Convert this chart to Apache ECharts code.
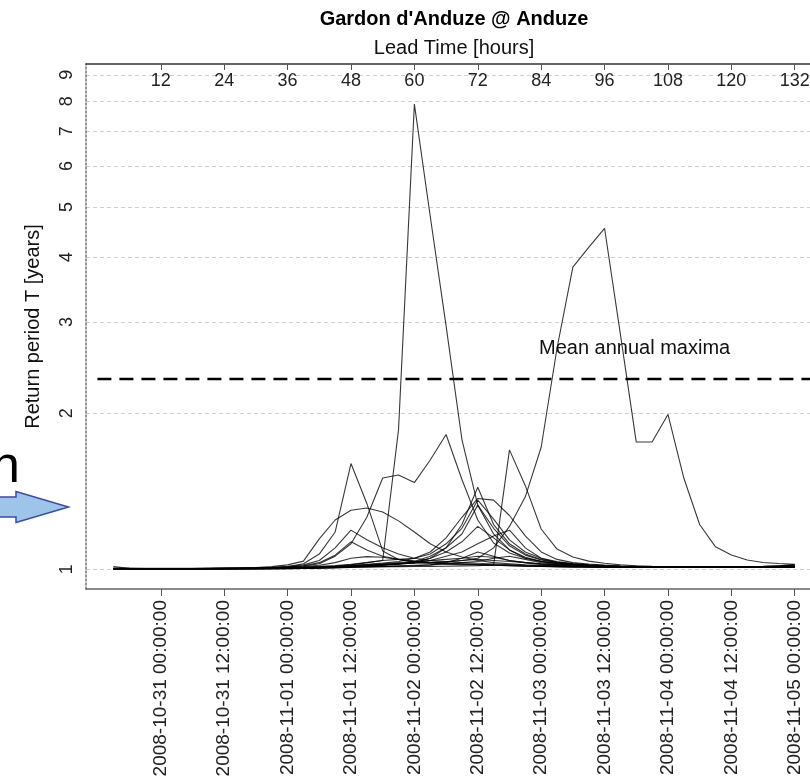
<!DOCTYPE html>
<html>
<head>
<meta charset="utf-8">
<script src="https://cdn.jsdelivr.net/npm/echarts@6/dist/echarts.min.js"></script>
<style>
  html, body { margin: 0; padding: 0; overflow: hidden; background: #fff; }
  #chart { width: 830px; height: 782px; }
</style>
</head>
<body>
<div id="chart"></div>
<script>
// lead time of each forecast step, hours after 2008-10-30 12:00
const leadHours = [3, 6, 9, 12, 15, 18, 21, 24, 27, 30, 33,
  36, 39, 42, 45, 48, 51, 54, 57, 60, 63, 66,
  69, 72, 75, 78, 81, 84, 87, 90, 93, 96, 99,
  102, 105, 108, 111, 114, 117, 120, 123, 126, 129, 132]

const hourTicks = [12, 24, 36, 48, 60, 72, 84, 96, 108, 120, 132]
const returnTicks = [1, 2, 3, 4, 5, 6, 7, 8, 9]
const meanAnnualMax = 2.33

// return period T [years] of each ensemble member
const memberA = [1.012, 1.004, 1.003, 1.003, 1.003, 1.003, 1.003, 1.004, 1.004, 1.005, 1.006,
  1.008, 1.01, 1.013, 1.017, 1.022, 1.03, 1.04, 1.86, 7.9, 4.8, 2.95,
  1.78, 1.33, 1.17, 1.09, 1.05, 1.035, 1.025, 1.02, 1.016, 1.014, 1.012,
  1.011, 1.01, 1.01, 1.01, 1.01, 1.01, 1.01, 1.01, 1.012, 1.014, 1.016]
const memberB = [1.004, 1.004, 1.003, 1.003, 1.003, 1.003, 1.003, 1.003, 1.004, 1.004, 1.005,
  1.006, 1.008, 1.01, 1.013, 1.016, 1.02, 1.022, 1.025, 1.027, 1.03, 1.033,
  1.04, 1.05, 1.1, 1.21, 1.38, 1.72, 2.67, 3.83, 4.18, 4.55, 2.84,
  1.76, 1.76, 1.99, 1.5, 1.22, 1.105, 1.066, 1.042, 1.031, 1.026, 1.022]
const memberC = [1.004, 1.004, 1.004, 1.004, 1.004, 1.004, 1.004, 1.004, 1.004, 1.005, 1.005,
  1.006, 1.007, 1.008, 1.009, 1.01, 1.011, 1.012, 1.012, 1.013, 1.013, 1.014,
  1.015, 1.016, 1.02, 1.7, 1.45, 1.196, 1.094, 1.056, 1.037, 1.027, 1.02,
  1.016, 1.013, 1.012, 1.011, 1.01, 1.01, 1.01, 1.01, 1.01, 1.011, 1.012]
const memberD = [1.003, 1.003, 1.003, 1.003, 1.003, 1.003, 1.004, 1.004, 1.005, 1.006, 1.008,
  1.012, 1.025, 1.07, 1.18, 1.6, 1.34, 1.085, 1.045, 1.032, 1.026, 1.022,
  1.02, 1.02, 1.018, 1.016, 1.014, 1.013, 1.012, 1.011, 1.01, 1.01, 1.01,
  1.01, 1.01, 1.01, 1.01, 1.01, 1.01, 1.01, 1.01, 1.01, 1.011, 1.012]
const memberE = [1.003, 1.003, 1.003, 1.003, 1.003, 1.003, 1.004, 1.005, 1.006, 1.008, 1.012,
  1.02, 1.037, 1.145, 1.245, 1.3, 1.313, 1.29, 1.24, 1.18, 1.12, 1.08,
  1.056, 1.04, 1.03, 1.025, 1.02, 1.018, 1.016, 1.014, 1.012, 1.011, 1.01,
  1.01, 1.01, 1.01, 1.01, 1.01, 1.01, 1.01, 1.01, 1.01, 1.012, 1.015]
const memberF = [1.003, 1.003, 1.003, 1.003, 1.003, 1.003, 1.003, 1.004, 1.005, 1.006, 1.008,
  1.01, 1.015, 1.025, 1.06, 1.12, 1.26, 1.5, 1.52, 1.47, 1.625, 1.82,
  1.49, 1.245, 1.124, 1.075, 1.05, 1.035, 1.028, 1.022, 1.018, 1.015, 1.013,
  1.012, 1.011, 1.01, 1.01, 1.01, 1.01, 1.01, 1.01, 1.012, 1.016, 1.02]
const memberG1 = [1.003, 1.003, 1.003, 1.003, 1.003, 1.003, 1.003, 1.003, 1.004, 1.004, 1.005,
  1.006, 1.007, 1.009, 1.011, 1.014, 1.017, 1.02, 1.025, 1.03, 1.05, 1.1,
  1.22, 1.44, 1.22, 1.12, 1.07, 1.045, 1.032, 1.025, 1.02, 1.017, 1.014,
  1.012, 1.011, 1.01, 1.01, 1.01, 1.01, 1.01, 1.01, 1.01, 1.012, 1.014]
const memberG2 = [1.003, 1.003, 1.003, 1.003, 1.003, 1.003, 1.003, 1.003, 1.003, 1.004, 1.005,
  1.006, 1.008, 1.01, 1.013, 1.02, 1.03, 1.04, 1.045, 1.05, 1.07, 1.12,
  1.2, 1.36, 1.25, 1.14, 1.08, 1.05, 1.035, 1.026, 1.02, 1.016, 1.013,
  1.012, 1.011, 1.01, 1.01, 1.01, 1.01, 1.01, 1.01, 1.01, 1.01, 1.012]
const memberG3 = [1.003, 1.003, 1.003, 1.003, 1.003, 1.003, 1.003, 1.003, 1.003, 1.003, 1.004,
  1.005, 1.006, 1.008, 1.01, 1.013, 1.016, 1.02, 1.025, 1.035, 1.06, 1.1,
  1.17, 1.33, 1.2, 1.11, 1.065, 1.042, 1.03, 1.024, 1.019, 1.015, 1.012,
  1.011, 1.01, 1.01, 1.01, 1.01, 1.01, 1.01, 1.01, 1.01, 1.011, 1.012]
const memberG4 = [1.003, 1.003, 1.003, 1.003, 1.003, 1.003, 1.003, 1.003, 1.003, 1.003, 1.004,
  1.005, 1.006, 1.007, 1.009, 1.011, 1.014, 1.018, 1.022, 1.03, 1.05, 1.08,
  1.13, 1.21, 1.15, 1.09, 1.055, 1.036, 1.026, 1.02, 1.016, 1.013, 1.011,
  1.01, 1.01, 1.01, 1.01, 1.01, 1.01, 1.01, 1.01, 1.01, 1.01, 1.011]
const memberH = [1.003, 1.003, 1.003, 1.003, 1.003, 1.003, 1.003, 1.003, 1.003, 1.004, 1.005,
  1.006, 1.008, 1.01, 1.013, 1.017, 1.022, 1.028, 1.035, 1.05, 1.08, 1.15,
  1.26, 1.37, 1.36, 1.27, 1.16, 1.08, 1.045, 1.03, 1.024, 1.019, 1.015,
  1.013, 1.011, 1.01, 1.01, 1.01, 1.01, 1.01, 1.01, 1.01, 1.012, 1.015]
const memberI = [1.003, 1.003, 1.003, 1.003, 1.003, 1.003, 1.003, 1.003, 1.003, 1.003, 1.004,
  1.005, 1.006, 1.008, 1.01, 1.012, 1.015, 1.02, 1.025, 1.03, 1.04, 1.06,
  1.08, 1.12, 1.16, 1.19, 1.1, 1.05, 1.03, 1.022, 1.017, 1.014, 1.012,
  1.011, 1.01, 1.01, 1.01, 1.01, 1.01, 1.01, 1.01, 1.01, 1.01, 1.012]
const memberJ1 = [1.003, 1.003, 1.003, 1.003, 1.003, 1.003, 1.003, 1.004, 1.005, 1.006, 1.008,
  1.012, 1.02, 1.04, 1.1, 1.19, 1.14, 1.1, 1.07, 1.05, 1.04, 1.035,
  1.03, 1.027, 1.024, 1.021, 1.018, 1.016, 1.014, 1.012, 1.011, 1.01, 1.01,
  1.01, 1.01, 1.01, 1.01, 1.01, 1.01, 1.01, 1.01, 1.01, 1.011, 1.012]
const memberJ2 = [1.003, 1.003, 1.003, 1.003, 1.003, 1.003, 1.003, 1.004, 1.004, 1.005, 1.007,
  1.01, 1.016, 1.03, 1.065, 1.13, 1.09, 1.06, 1.045, 1.035, 1.03, 1.026,
  1.023, 1.02, 1.018, 1.016, 1.014, 1.013, 1.012, 1.011, 1.01, 1.01, 1.01,
  1.01, 1.01, 1.01, 1.01, 1.01, 1.01, 1.01, 1.01, 1.01, 1.01, 1.01]
const memberK1 = [1.003, 1.003, 1.003, 1.003, 1.003, 1.003, 1.003, 1.003, 1.004, 1.005, 1.006,
  1.008, 1.012, 1.018, 1.03, 1.05, 1.058, 1.055, 1.045, 1.038, 1.032, 1.028,
  1.025, 1.022, 1.02, 1.018, 1.016, 1.014, 1.012, 1.011, 1.01, 1.01, 1.01,
  1.01, 1.01, 1.01, 1.01, 1.01, 1.01, 1.01, 1.01, 1.01, 1.01, 1.01]
const memberK2 = [1.003, 1.003, 1.003, 1.003, 1.003, 1.003, 1.003, 1.003, 1.003, 1.003, 1.003,
  1.004, 1.006, 1.008, 1.011, 1.015, 1.02, 1.025, 1.03, 1.035, 1.04, 1.045,
  1.05, 1.06, 1.055, 1.04, 1.03, 1.024, 1.02, 1.016, 1.013, 1.011, 1.01,
  1.01, 1.01, 1.01, 1.01, 1.01, 1.01, 1.01, 1.01, 1.01, 1.01, 1.011]
const memberK3 = [1.003, 1.003, 1.003, 1.003, 1.003, 1.003, 1.003, 1.003, 1.003, 1.003, 1.003,
  1.004, 1.005, 1.006, 1.008, 1.01, 1.012, 1.014, 1.016, 1.018, 1.02, 1.025,
  1.03, 1.035, 1.05, 1.06, 1.045, 1.03, 1.022, 1.017, 1.014, 1.012, 1.01,
  1.01, 1.01, 1.01, 1.01, 1.01, 1.01, 1.01, 1.01, 1.01, 1.01, 1.01]
const memberK4 = [1.003, 1.003, 1.003, 1.003, 1.003, 1.003, 1.003, 1.003, 1.003, 1.003, 1.003,
  1.003, 1.004, 1.005, 1.006, 1.008, 1.01, 1.012, 1.014, 1.016, 1.02, 1.03,
  1.05, 1.08, 1.06, 1.04, 1.03, 1.022, 1.017, 1.014, 1.012, 1.01, 1.01,
  1.008, 1.008, 1.008, 1.008, 1.008, 1.008, 1.008, 1.008, 1.008, 1.008, 1.008]
const memberK5 = [1.003, 1.003, 1.003, 1.003, 1.003, 1.003, 1.003, 1.003, 1.003, 1.003, 1.003,
  1.003, 1.004, 1.005, 1.007, 1.01, 1.015, 1.02, 1.025, 1.03, 1.032, 1.035,
  1.04, 1.045, 1.04, 1.035, 1.03, 1.025, 1.02, 1.016, 1.013, 1.011, 1.01,
  1.01, 1.01, 1.01, 1.01, 1.01, 1.01, 1.01, 1.011, 1.013, 1.016, 1.02]

const ensemble = [memberK1, memberK2, memberK3, memberK4, memberK5, memberJ1, memberJ2,
  memberI, memberG4, memberG3, memberG2, memberG1, memberH, memberE, memberD, memberF,
  memberC, memberB, memberA]

const FONT = '"Liberation Sans", Arial, Helvetica, sans-serif'
const baseTime = Date.UTC(2008, 9, 30, 12, 0, 0)

function pad(n) {
  return ('0' + n).substr(-2)
}
function formatDate(h) {
  const d = new Date(baseTime + h * 3600 * 1000)
  return d.getUTCFullYear() + '-' + pad(d.getUTCMonth() + 1) + '-' + pad(d.getUTCDate()) +
    ' ' + pad(d.getUTCHours()) + ':' + pad(d.getUTCMinutes()) + ':' + pad(d.getUTCSeconds())
}

const xMin = -2.16
const xMax = 137.16
const yMin = -0.038
const yMax = 0.975
const yTickValues = returnTicks.map(v => Math.log10(v))

const series = ensemble.map(vals => ({
  type: 'line',
  data: leadHours.map((h, i) => [h, Math.log10(vals[i])]),
  symbol: 'none',
  silent: true,
  lineStyle: { color: '#000', width: 1.1, opacity: 0.78 }
}))
series.push({
  type: 'line',
  data: [[0, Math.log10(meanAnnualMax)], [xMax + 5, Math.log10(meanAnnualMax)]],
  symbol: 'none',
  silent: true,
  z: 5,
  lineStyle: { color: '#000', width: 2.5, type: [14, 8] }
})

const chart = echarts.init(document.getElementById('chart'))
chart.setOption({
  animation: false,
  backgroundColor: '#fff',
  grid: { left: 86, right: 8, top: 64, bottom: 193 },
  xAxis: [{
    type: 'value',
    position: 'bottom',
    min: xMin,
    max: xMax,
    axisLine: { onZero: false, lineStyle: { color: '#666', width: 1.5 } },
    axisTick: { length: 7, customValues: hourTicks, lineStyle: { color: '#555' } },
    axisLabel: {
      customValues: hourTicks,
      rotate: 90,
      margin: 11,
      color: '#222',
      fontFamily: FONT,
      fontSize: 19,
      formatter: v => formatDate(v)
    },
    splitLine: { show: false }
  }, {
    type: 'value',
    position: 'top',
    min: xMin,
    max: xMax,
    name: 'Lead Time [hours]',
    nameLocation: 'middle',
    nameGap: 6,
    nameTextStyle: { color: '#111', fontFamily: FONT, fontSize: 20 },
    axisLine: { onZero: false, lineStyle: { color: '#333', width: 1.5 } },
    axisTick: { inside: true, length: 6, customValues: hourTicks, lineStyle: { color: '#555' } },
    axisLabel: {
      inside: true,
      customValues: hourTicks,
      margin: 8,
      color: '#222',
      fontFamily: FONT,
      fontSize: 18
    },
    splitLine: { show: false }
  }],
  yAxis: {
    type: 'value',
    min: yMin,
    max: yMax,
    name: 'Return period T [years]',
    nameLocation: 'middle',
    nameGap: 43,
    nameTextStyle: { color: '#111', fontFamily: FONT, fontSize: 20 },
    axisLine: { show: true, onZero: false, lineStyle: { color: '#777', type: [2, 2], width: 1.5 } },
    axisTick: { show: false, customValues: yTickValues },
    axisLabel: {
      customValues: yTickValues,
      rotate: 90,
      margin: 10,
      color: '#222',
      fontFamily: FONT,
      fontSize: 18,
      formatter: v => String(Math.round(Math.pow(10, v)))
    },
    splitLine: { show: true, lineStyle: { color: '#cfcfcf', type: [4, 3], width: 1 } }
  },
  series: series,
  graphic: [{
    type: 'text',
    x: 454,
    y: 19,
    style: {
      text: "Gardon d'Anduze @ Anduze",
      align: 'center',
      verticalAlign: 'middle',
      font: 'bold 20px ' + FONT,
      fill: '#000'
    }
  }, {
    type: 'text',
    x: 539,
    y: 348,
    z: 10,
    style: {
      text: 'Mean annual maxima',
      align: 'left',
      verticalAlign: 'middle',
      font: '20px ' + FONT,
      fill: '#111'
    }
  }, {
    type: 'text',
    x: -9,
    y: 468,
    z: 10,
    style: {
      text: 'n',
      align: 'left',
      verticalAlign: 'middle',
      font: '52px ' + FONT,
      fill: '#000'
    }
  }, {
    type: 'polygon',
    z: 10,
    shape: {
      points: [[-5, 497], [16, 497], [16, 491.5], [68.5, 507], [16, 522.5], [16, 517], [-5, 517]]
    },
    style: { fill: '#9fc4ea', stroke: '#3b4aa8', lineWidth: 1.5 }
  }]
})
</script>
</body>
</html>
